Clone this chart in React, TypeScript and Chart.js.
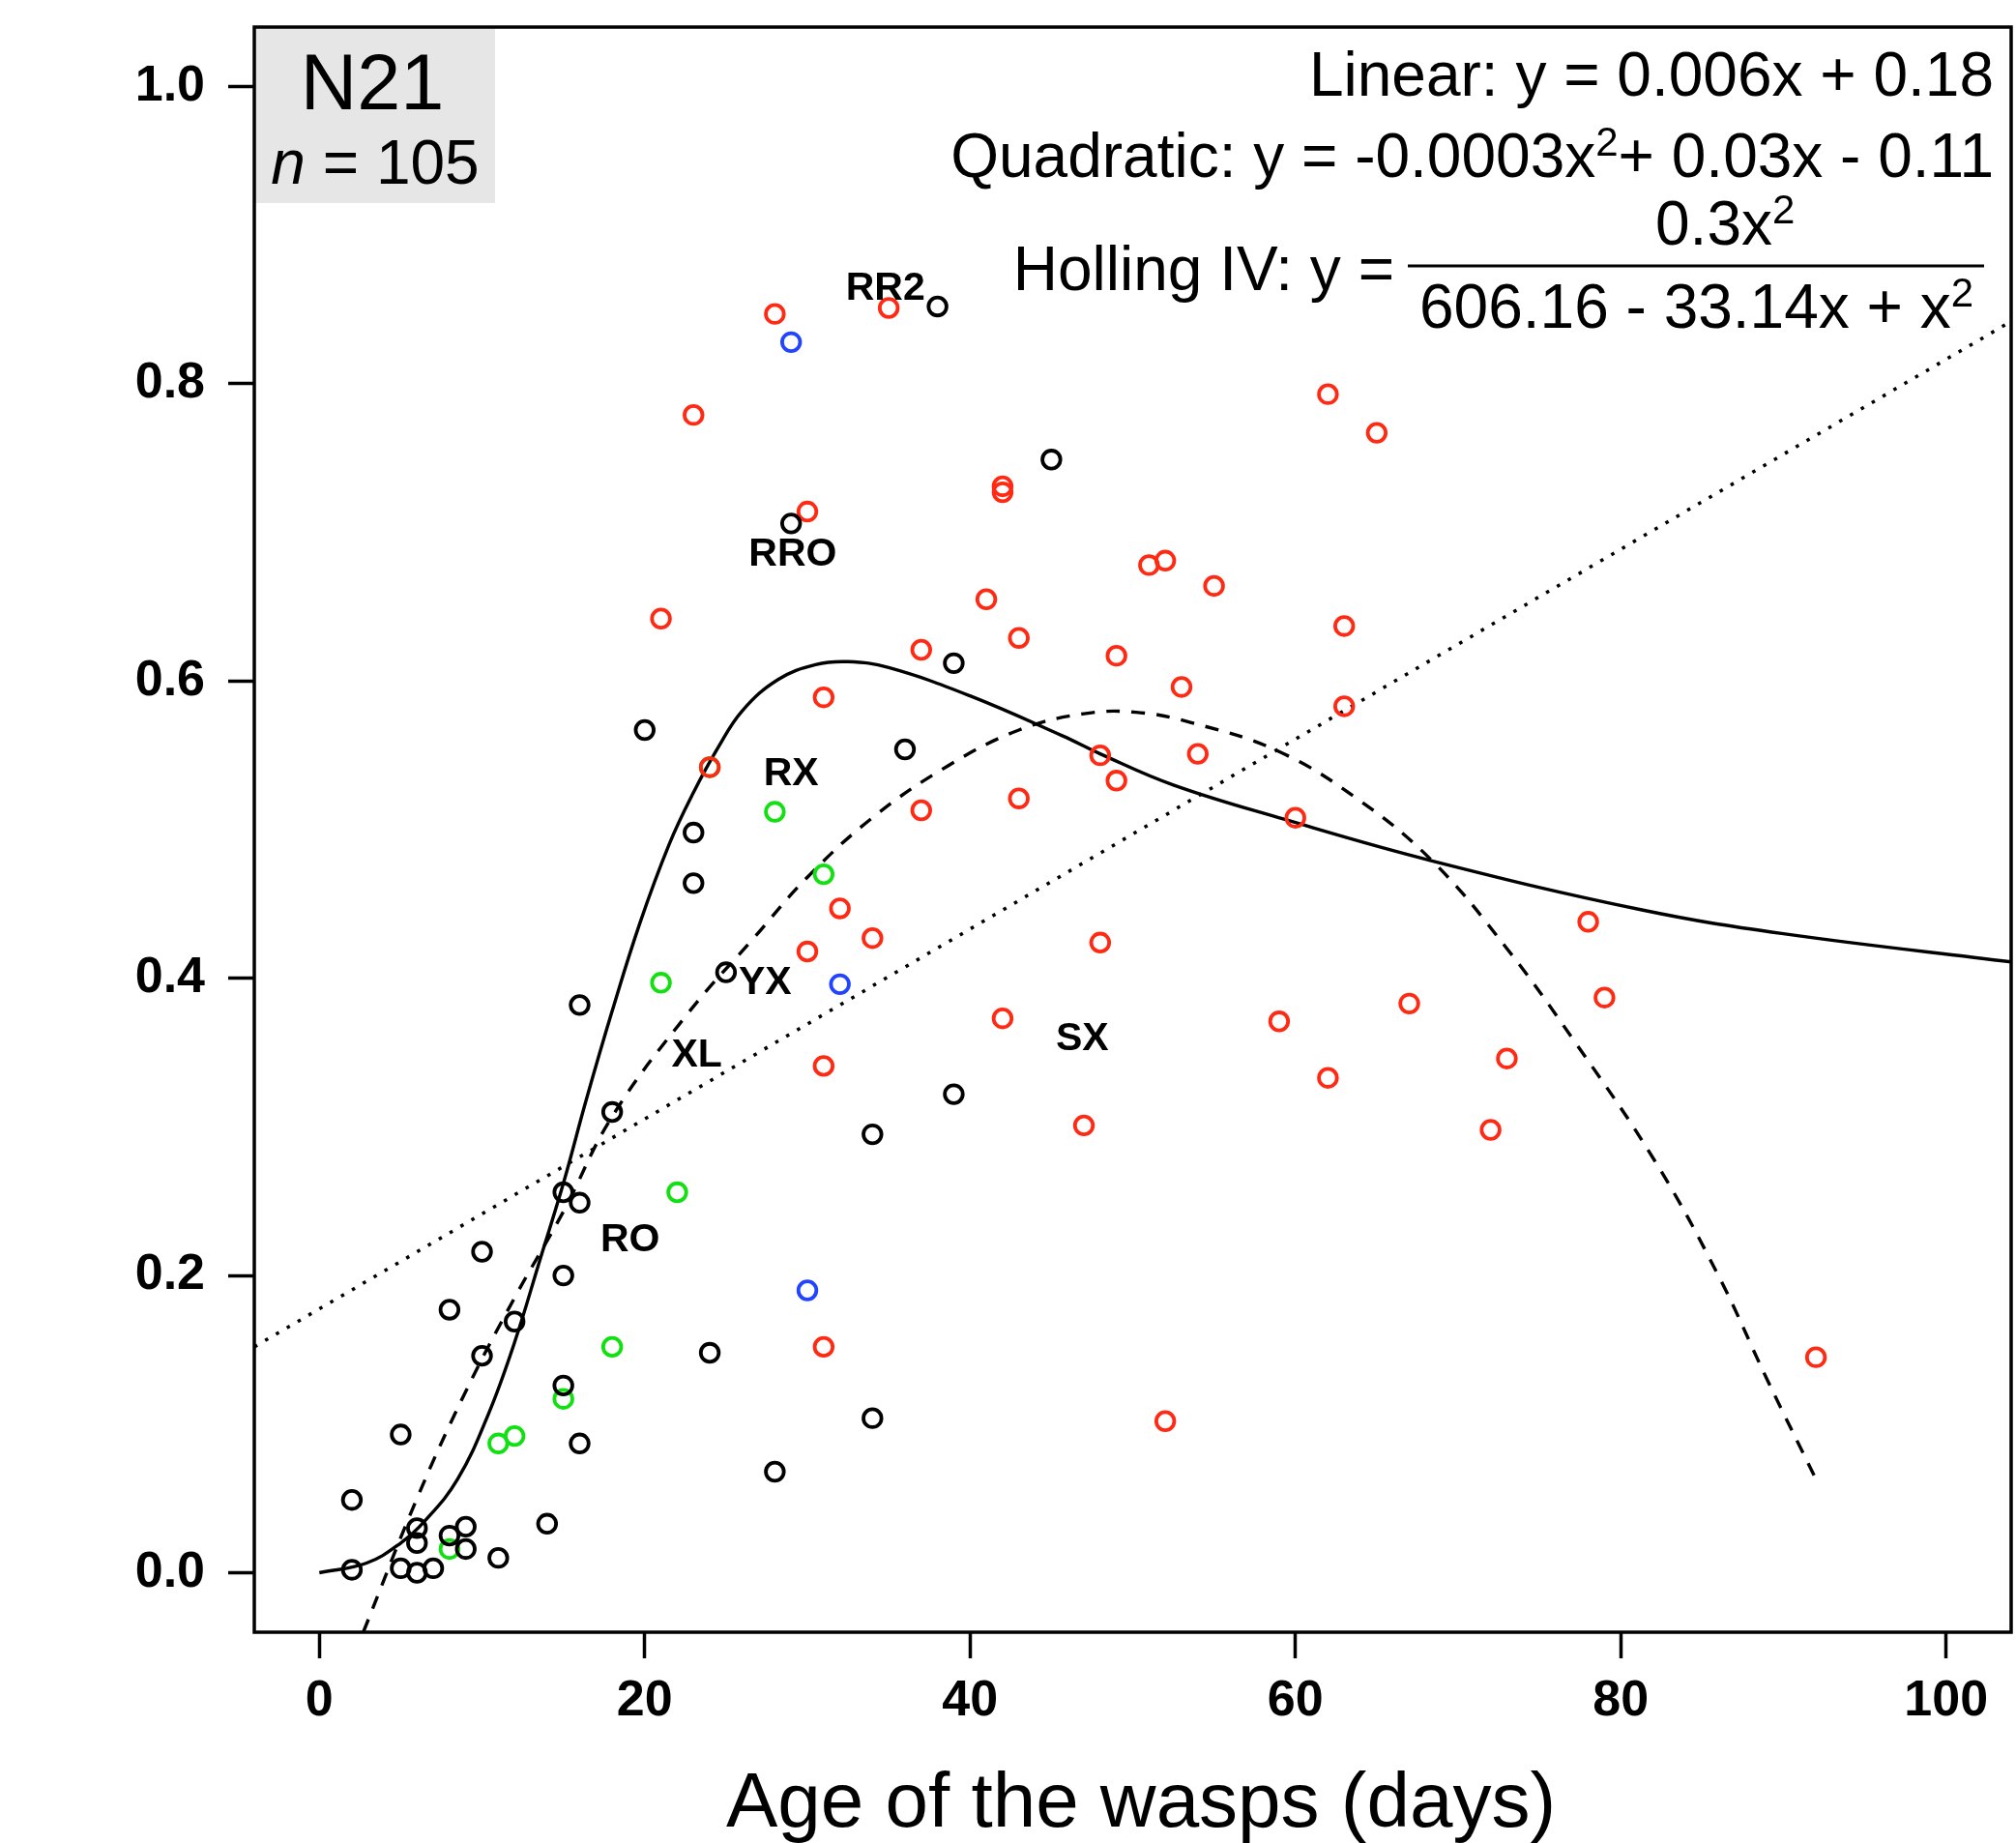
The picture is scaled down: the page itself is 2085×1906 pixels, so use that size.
import React, { useEffect, useRef } from "react";
import { Chart, registerables } from "chart.js";

Chart.register(...registerables);

// ---------- data ----------
const xTickValues = [0, 20, 40, 60, 80, 100];
const yTickValues = [0, 0.2, 0.4, 0.6, 0.8, 1.0];

const blackX = [2, 2, 5, 5, 6, 6, 6, 7, 8, 8, 9, 9, 10, 10, 11, 12, 14, 15, 15, 15, 16, 16, 16, 18, 20, 23, 23, 24, 25, 28, 29, 34, 34, 36, 38, 39, 39, 45];
const blackY = [0.049, 0.002, 0.093, 0.003, 0.03, 0.02, 0.0, 0.003, 0.177, 0.025, 0.031, 0.016, 0.216, 0.146, 0.01, 0.169, 0.033, 0.256, 0.2, 0.126, 0.249, 0.382, 0.087, 0.31, 0.567, 0.498, 0.464, 0.148, 0.404, 0.068, 0.706, 0.295, 0.104, 0.554, 0.852, 0.612, 0.322, 0.749];

const greenX = [8, 11, 12, 15, 18, 21, 22, 24, 28, 31];
const greenY = [0.016, 0.087, 0.092, 0.117, 0.152, 0.397, 0.256, 0.542, 0.512, 0.47];

const blueX = [29, 30, 32];
const blueY = [0.828, 0.19, 0.396];

const redX = [21, 23, 24, 28, 30, 30, 31, 31, 31, 32, 34, 35, 37, 37, 41, 42, 42, 42, 43, 43, 47, 48, 48, 49, 49, 51, 52, 52, 53, 54, 55, 59, 60, 62, 62, 63, 63, 65, 67, 72, 73, 78, 79, 92];
const redY = [0.642, 0.779, 0.542, 0.847, 0.714, 0.418, 0.589, 0.341, 0.152, 0.447, 0.427, 0.851, 0.621, 0.513, 0.655, 0.731, 0.727, 0.373, 0.629, 0.521, 0.301, 0.55, 0.424, 0.617, 0.533, 0.678, 0.681, 0.102, 0.596, 0.551, 0.664, 0.371, 0.508, 0.793, 0.333, 0.637, 0.583, 0.767, 0.383, 0.298, 0.346, 0.438, 0.387, 0.145];

// fitted curves
const hollingX = [0, 2.9, 5, 6.5, 8.5, 10.4, 12, 13.6, 15, 16.4, 18, 19.7, 21.5, 23, 24.5, 26, 28.2, 30.5, 32.5, 35, 40, 45.7, 48, 52.5, 59.3, 68.4, 81.3, 90, 104];
const hollingY = [0, 0.0065, 0.02, 0.035, 0.063, 0.107, 0.155, 0.212, 0.262, 0.318, 0.378, 0.437, 0.49, 0.525, 0.555, 0.58, 0.601, 0.611, 0.613, 0.609, 0.59, 0.563, 0.551, 0.53, 0.507, 0.479, 0.446, 0.43, 0.411];

const quadX = [2.7, 6, 9, 12, 15, 18, 22.7, 26.7, 30, 34, 38.5, 43, 47, 50.2, 53.6, 58.9, 63.9, 68.5, 73, 77, 82.1, 86, 89, 92];
const quadY = [-0.04, 0.05, 0.122, 0.185, 0.243, 0.307, 0.377, 0.427, 0.468, 0.508, 0.542, 0.567, 0.578, 0.579, 0.572, 0.553, 0.52, 0.478, 0.42, 0.36, 0.277, 0.2, 0.13, 0.063];

const linearX = [-4, 104];
const linearY = [0.152, 0.842];

const labelText = ["RR2", "RRO", "RX", "YX", "XL", "RO", "SX"];
const labelX = [34.8, 29.1, 29.0, 27.4, 23.2, 19.1, 46.9];
const labelY = [0.864, 0.685, 0.537, 0.397, 0.348, 0.224, 0.359];

// ---------- styling ----------
const FONT = '"Liberation Sans", Arial, Helvetica, sans-serif';
const RED = "#ff2a14";
const GREEN = "#12e012";
const BLUE = "#2244ff";
const BLACK = "#000000";

const toXY = (xs: number[], ys: number[]) => xs.map((x, i) => ({ x, y: ys[i] }));

function pointSet(xs: number[], ys: number[], color: string) {
  return {
    type: "scatter" as const,
    data: toXY(xs, ys),
    showLine: false,
    pointStyle: "circle",
    pointRadius: 9.3,
    pointHoverRadius: 9.3,
    pointBorderWidth: 3.8,
    pointHoverBorderWidth: 3.8,
    borderWidth: 3.8,
    pointBorderColor: color,
    pointBackgroundColor: "rgba(0,0,0,0)",
    borderColor: color,
    backgroundColor: "rgba(0,0,0,0)",
  };
}

function lineSet(xs: number[], ys: number[], dash: number[], width: number, tension: number) {
  return {
    type: "line" as const,
    data: toXY(xs, ys),
    showLine: true,
    pointRadius: 0,
    pointHoverRadius: 0,
    borderColor: BLACK,
    borderWidth: width,
    borderDash: dash,
    borderCapStyle: "butt",
    fill: false,
    tension,
  };
}

type Seg = [string, boolean];

function drawRich(ctx: CanvasRenderingContext2D, segs: Seg[], x: number, baseline: number, align: "left" | "right") {
  const main = 64;
  const sup = 42;
  const widths = segs.map(([t, s]) => {
    ctx.font = `${s ? sup : main}px ${FONT}`;
    return ctx.measureText(t).width;
  });
  const total = widths.reduce((a, b) => a + b, 0);
  let cx = align === "right" ? x - total : x;
  ctx.textAlign = "left";
  ctx.textBaseline = "alphabetic";
  segs.forEach(([t, s], i) => {
    ctx.font = `${s ? sup : main}px ${FONT}`;
    ctx.fillText(t, cx, s ? baseline - 22 : baseline);
    cx += widths[i];
  });
  return total;
}

const decorPlugin = {
  id: "decor",
  beforeDatasetsDraw(chart: any) {
    const { ctx, chartArea } = chart;
    ctx.save();
    ctx.fillStyle = "#e6e6e6";
    ctx.fillRect(chartArea.left, chartArea.top, 249, 182);
    ctx.restore();
  },
  afterDraw(chart: any) {
    const { ctx, chartArea, scales } = chart;
    const { left, top, right, bottom } = chartArea;
    ctx.save();
    // plot frame
    ctx.strokeStyle = BLACK;
    ctx.lineWidth = 3.5;
    ctx.strokeRect(left, top, right - left, bottom - top);

    ctx.fillStyle = BLACK;
    // point labels
    ctx.font = `bold 41px ${FONT}`;
    ctx.textAlign = "center";
    ctx.textBaseline = "middle";
    labelText.forEach((t, i) => {
      ctx.fillText(t, scales.x.getPixelForValue(labelX[i]), scales.y.getPixelForValue(labelY[i]));
    });

    // panel id
    ctx.textBaseline = "alphabetic";
    ctx.font = `81px ${FONT}`;
    ctx.textAlign = "center";
    ctx.fillText("N21", 385, 113);
    ctx.font = `italic 64px ${FONT}`;
    const nW = ctx.measureText("n").width;
    ctx.font = `64px ${FONT}`;
    const restW = ctx.measureText(" = 105").width;
    const startX = 388 - (nW + restW) / 2;
    ctx.textAlign = "left";
    ctx.font = `italic 64px ${FONT}`;
    ctx.fillText("n", startX, 190);
    ctx.font = `64px ${FONT}`;
    ctx.fillText(" = 105", startX + nW, 190);

    // equations
    const rx = 2062;
    drawRich(ctx, [["Linear: y = 0.006x + 0.18", false]], rx, 99, "right");
    drawRich(ctx, [["Quadratic: y = -0.0003x", false], ["2", true], ["+ 0.03x - 0.11", false]], rx, 183, "right");
    drawRich(ctx, [["Holling IV: y =", false]], 1442, 300, "right");
    ctx.fillRect(1456, 273.5, 596, 3);
    drawRich(ctx, [["0.3x", false], ["2", true]], 1712, 253, "left");
    drawRich(ctx, [["606.16 - 33.14x + x", false], ["2", true]], 1468, 339, "left");

    // x axis title
    ctx.font = `80px ${FONT}`;
    ctx.textAlign = "center";
    ctx.textBaseline = "alphabetic";
    ctx.fillText("Age of the wasps (days)", 1180, 1889);
    ctx.restore();
  },
};

export default function App() {
  const ref = useRef<HTMLCanvasElement>(null);

  useEffect(() => {
    document.body.style.margin = "0";
    document.body.style.overflow = "hidden";
    const canvas = ref.current;
    if (!canvas) return;

    const chart = new Chart(canvas, {
      type: "scatter",
      data: {
        datasets: [
          pointSet(blackX, blackY, BLACK),
          pointSet(redX, redY, RED),
          pointSet(greenX, greenY, GREEN),
          pointSet(blueX, blueY, BLUE),
          lineSet(hollingX, hollingY, [], 3.4, 0.4),
          lineSet(quadX, quadY, [14, 12], 3.4, 0.4),
          lineSet(linearX, linearY, [3.5, 9.5], 3.5, 0),
        ] as any,
      },
      options: {
        animation: false,
        responsive: false,
        devicePixelRatio: 1,
        events: [],
        layout: { autoPadding: false, padding: { top: 28, right: 5, left: 0, bottom: 0 } },
        plugins: {
          legend: { display: false },
          tooltip: { enabled: false },
          title: { display: false },
        },
        scales: {
          x: {
            type: "linear",
            min: -4,
            max: 104,
            afterBuildTicks: (s: any) => {
              s.ticks = xTickValues.map((v) => ({ value: v }));
            },
            afterFit: (s: any) => {
              s.height = 218;
              s.paddingLeft = 0;
              s.paddingRight = 0;
              s.paddingTop = 0;
              s.paddingBottom = 0;
            },
            border: { display: false },
            grid: {
              drawOnChartArea: false,
              drawTicks: true,
              tickLength: 27,
              tickWidth: 3.5,
              tickColor: BLACK,
            },
            ticks: {
              color: BLACK,
              padding: 13,
              maxRotation: 0,
              autoSkip: false,
              font: { family: FONT, size: 52, weight: "bold" },
              callback: (v: any) => String(v),
            },
          },
          y: {
            type: "linear",
            min: -0.04,
            max: 1.04,
            afterBuildTicks: (s: any) => {
              s.ticks = yTickValues.map((v) => ({ value: v }));
            },
            afterFit: (s: any) => {
              s.width = 263;
              s.paddingLeft = 0;
              s.paddingRight = 0;
              s.paddingTop = 0;
              s.paddingBottom = 0;
            },
            border: { display: false },
            grid: {
              drawOnChartArea: false,
              drawTicks: true,
              tickLength: 27,
              tickWidth: 3.5,
              tickColor: BLACK,
            },
            ticks: {
              color: BLACK,
              padding: 24,
              autoSkip: false,
              font: { family: FONT, size: 52, weight: "bold" },
              callback: (v: any) => Number(v).toFixed(1),
            },
          },
        },
      } as any,
      plugins: [decorPlugin],
    });

    return () => chart.destroy();
  }, []);

  return (
    <div style={{ width: 2085, height: 1906, background: "#fff" }}>
      <canvas ref={ref} width={2085} height={1906} style={{ display: "block", width: 2085, height: 1906 }} />
    </div>
  );
}
